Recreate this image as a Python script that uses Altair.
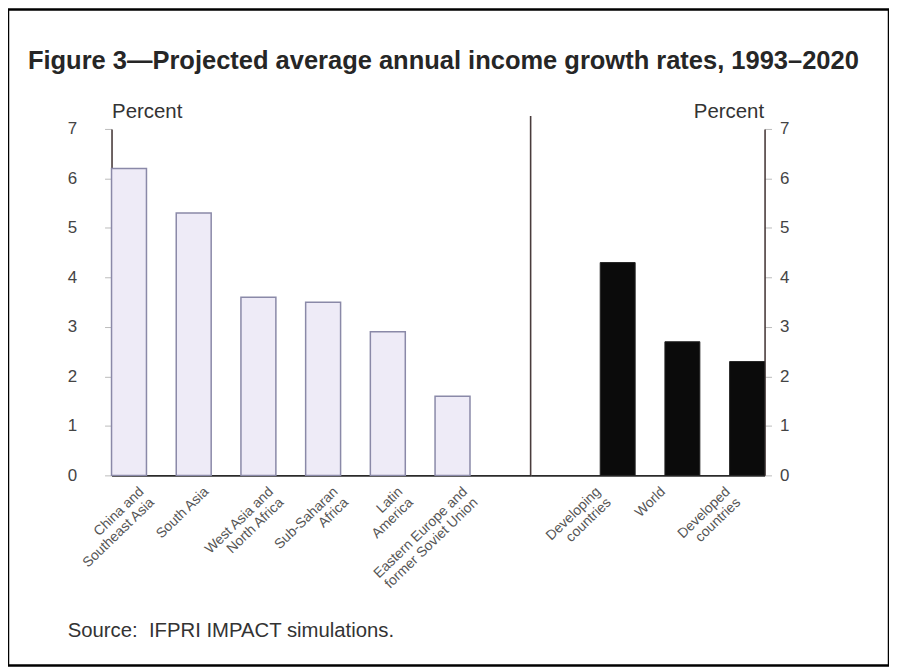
import json
import altair as alt
import pandas as pd

# ---------------- data ----------------
left_regions = [
    "China and Southeast Asia",
    "South Asia",
    "West Asia and North Africa",
    "Sub-Saharan Africa",
    "Latin America",
    "Eastern Europe and former Soviet Union",
]
left_growth = [6.2, 5.3, 3.6, 3.5, 2.9, 1.6]
left_label_lines = [
    ["China and", "Southeast Asia"],
    ["South Asia"],
    ["West Asia and", "North Africa"],
    ["Sub-Saharan", "Africa"],
    ["Latin", "America"],
    ["Eastern Europe and", "former Soviet Union"],
]

right_groups = ["Developing countries", "World", "Developed countries"]
right_growth = [4.3, 2.7, 2.3]
right_label_lines = [["Developing", "countries"], ["World"], ["Developed", "countries"]]

y_ticks = [0, 1, 2, 3, 4, 5, 6, 7]
title_text = "Figure 3\u2014Projected average annual income growth rates, 1993\u20132020"
source_text = "Source:\u00a0 IFPRI IMPACT simulations."
y_title = "Percent"

FONT = "Liberation Sans"
W, H = 885, 659


def label_expr(names, lines):
    expr = "datum.value"
    for n, l in reversed(list(zip(names, lines))):
        expr = f"datum.value == {json.dumps(n)} ? {json.dumps(l)} : ({expr})"
    return expr


left_df = pd.DataFrame({"region": left_regions, "growth": left_growth})
right_df = pd.DataFrame({"region": right_groups, "growth": right_growth})

y_scale = alt.Scale(domain=[0, 7], range=[468, 120], nice=False, zero=True)

x_axis_common = dict(
    title=None,
    orient="bottom",
    offset=-(H - 468),
    ticks=False,
    tickSize=0,
    domainColor="#2b2b2b",
    domainWidth=2,
    labelAngle=-44,
    labelAlign="right",
    labelBaseline="top",
    labelFont=FONT,
    labelFontSize=14,
    labelColor="#555555",
    labelLineHeight=15,
    labelPadding=9,
)

y_axis_common = dict(
    values=y_ticks,
    grid=False,
    domainColor="#4a3c3c",
    domainWidth=1.6,
    tickColor="#bbbbbb",
    tickSize=7,
    labelFont=FONT,
    labelFontSize=17,
    labelColor="#444444",
    title=y_title,
    titleAngle=0,
    titleY=109,
    titleBaseline="alphabetic",
    titleFont=FONT,
    titleFontSize=20.5,
    titleFontWeight="normal",
    titleColor="#333333",
)

left = (
    alt.Chart(left_df)
    .mark_bar(fill="#eeebf7", stroke="#8a89a8", strokeWidth=1.5)
    .encode(
        x=alt.X(
            "region:N",
            sort=left_regions,
            scale=alt.Scale(range=[104, 525], paddingInner=0.46, paddingOuter=0.4685, align=0),
            axis=alt.Axis(labelExpr=label_expr(left_regions, left_label_lines), labelOffset=8, **x_axis_common),
        ),
        y=alt.Y(
            "growth:Q",
            scale=y_scale,
            axis=alt.Axis(
                orient="left",
                offset=-104,
                labelPadding=28,
                titleX=0,
                titleAlign="left",
                **y_axis_common,
            ),
        ),
    )
)

right = (
    alt.Chart(right_df)
    .mark_bar(fill="#0b0b0b", stroke="#222222", strokeWidth=1)
    .encode(
        x=alt.X(
            "region:N",
            sort=right_groups,
            scale=alt.Scale(range=[525, 760], paddingInner=0.46, paddingOuter=0.5377, align=1),
            axis=alt.Axis(labelExpr=label_expr(right_groups, right_label_lines), labelOffset=-24, **x_axis_common),
        ),
        y=alt.Y(
            "growth:Q",
            scale=y_scale,
            axis=alt.Axis(
                orient="right",
                offset=-(W - 760),
                labelPadding=8,
                titleX=-1,
                titleAlign="right",
                **y_axis_common,
            ),
        ),
    )
)

divider = (
    alt.Chart(pd.DataFrame({"d": [0]}))
    .mark_rule(color="#4a3c3c", strokeWidth=1.6)
    .encode(x=alt.value(525), y=alt.value(107), y2=alt.value(468))
)

title = (
    alt.Chart(pd.DataFrame({"t": [title_text]}))
    .mark_text(align="left", baseline="alphabetic", font=FONT, fontSize=25.6, fontWeight="bold", color="#262626")
    .encode(text="t:N", x=alt.value(20), y=alt.value(60))
)

source = (
    alt.Chart(pd.DataFrame({"t": [source_text]}))
    .mark_text(align="left", baseline="alphabetic", font=FONT, fontSize=20.4, color="#333333")
    .encode(text="t:N", x=alt.value(60), y=alt.value(630))
)

chart = (
    alt.layer(left, right, divider, title, source)
    .resolve_scale(x="independent")
    .resolve_axis(x="independent", y="independent")
    .properties(width=W, height=H, padding=0, background="white")
    .configure_view(stroke="#000000", strokeWidth=2.5)
)

chart.save("out.html", embed_options={"renderer": "svg", "actions": False})
